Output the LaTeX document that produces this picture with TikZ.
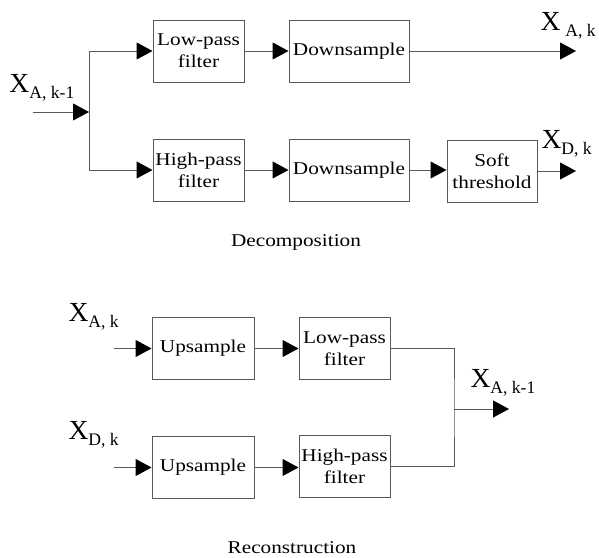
\documentclass[tikz,border=0pt]{standalone}
\usepackage{fontspec}
\setmainfont{Liberation Serif}
\newfontfamily\boxfont[FakeStretch=1.18]{Liberation Serif}
\usetikzlibrary{arrows.meta}

\newcommand{\xsig}[2]{{\fontsize{13.8}{14}\selectfont X}{\fontsize{8.8}{10}\selectfont\raisebox{-3pt}{#1#2}}}

\begin{document}
\begin{tikzpicture}[x=0.5pt, y=-0.5pt,
	blk/.style={draw=black!65, line width=0.5pt, rectangle, minimum height=31pt, inner sep=0pt, align=center, font=\boxfont\fontsize{9}{11}\selectfont},
	every path/.style={draw=black!65, line width=0.5pt},
	arr/.style={-{Triangle[length=8pt, width=8.5pt, fill=black, color=black]}},
	lbl/.style={anchor=base west, inner sep=0pt, text=black}]
				\path[use as bounding box, draw=none] (0,0) rectangle (599,557);
				
				% decomposition
				\node[blk, minimum width=45.5pt] (lpf1) at (198.5,51){Low-pass\\filter};
				\node[blk, minimum width=45.5pt] (hpf1) at (198.5,170){High-pass\\filter};
				\node[blk, minimum width=60pt] (ds1) at (349,51){Downsample};
				\node[blk, minimum width=60pt] (ds2) at (349,170){Downsample};
				\node[blk, minimum width=45pt] (soft) at (492,171){Soft\\threshold};
				
				\coordinate (in1) at (33,112);
				\coordinate (split) at (89,112);
				\coordinate (outA) at (576,51);
				\coordinate (outD) at (576,171);
				
				\draw[arr] (in1) -- (split);
				\draw (89,51) -- (89,170);
				\draw[arr] (89,51) -- (lpf1.west);
				\draw[arr] (89,170) -- (hpf1.west);
				\draw[arr] (lpf1) -- (ds1);
				\draw[arr] (hpf1) -- (ds2);
				\draw[arr] (ds1) -- (outA);
				\draw[arr] (ds2.east) -- (soft.west |- ds2.east);
				\draw[arr] (soft) -- (outD);
				
				\node[lbl] (xin1) at (9,92){\xsig{A, k-1}{}};
				\node[lbl] (xa1) at (540,30){\xsig{\hspace{2.5pt}A, k}{}};
				\node[lbl] (xd1) at (541,148){\xsig{D, k}{}};
				\node[anchor=base, inner sep=0pt, text=black, font=\boxfont\fontsize{9}{11}\selectfont] (dec) at (296,246){Decomposition};
				
				% reconstruction
				\node[blk, minimum width=51pt] (up1) at (203,348.5){Upsample};
				\node[blk, minimum width=51pt] (up2) at (203,467.5){Upsample};
				\node[blk, minimum width=45.5pt] (lpf2) at (344.5,348.5){Low-pass\\filter};
				\node[blk, minimum width=45.5pt] (hpf2) at (344.5,466){High-pass\\filter};
				
				\coordinate (in2) at (114,348.5);
				\coordinate (in3) at (114,467.5);
				\coordinate (join) at (454,409);
				\coordinate (out2) at (509,409);
				
				\draw[arr] (in2) -- (up1);
				\draw[arr] (in3) -- (up2);
				\draw[arr] (up1) -- (lpf2);
				\draw[arr] (up2.east) -- (hpf2.west |- up2.east);
				\draw (lpf2.east) -| (join) |- (hpf2.east);
				\draw[arr] (join) -- (out2);
				
				\node[lbl] (xa2) at (68,321){\xsig{A, k}{}};
				\node[lbl] (xd2) at (68,439){\xsig{D, k}{}};
				\node[lbl] (xout) at (470,387){\xsig{A, k-1}{}};
				\node[anchor=base, inner sep=0pt, text=black, font=\boxfont\fontsize{9}{11}\selectfont] (rec) at (292,553){Reconstruction};
				\end{tikzpicture}
\end{document}
